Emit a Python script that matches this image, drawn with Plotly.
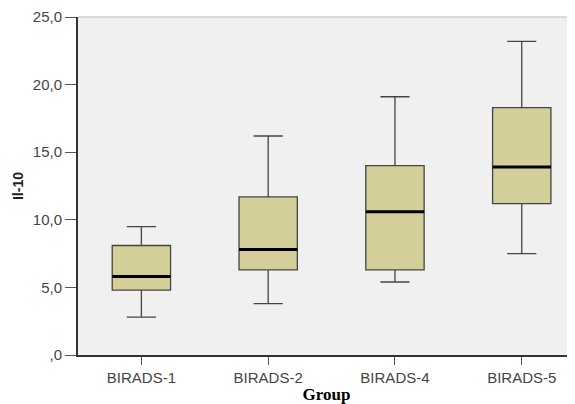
import plotly.graph_objects as go

categories = ["BIRADS-1", "BIRADS-2", "BIRADS-4", "BIRADS-5"]
lower_whisker = [2.8, 3.8, 5.4, 7.5]
q1 = [4.8, 6.3, 6.3, 11.2]
median = [5.8, 7.8, 10.6, 13.9]
q3 = [8.1, 11.7, 14.0, 18.3]
upper_whisker = [9.5, 16.2, 19.1, 23.2]
y_ticks = [0, 5, 10, 15, 20, 25]
y_tick_labels = [",0", "5,0", "10,0", "15,0", "20,0", "25,0"]

pos = list(range(len(categories)))
box_w = 0.46

fig = go.Figure()
fig.add_trace(go.Box(
    x=pos, q1=q1, median=median, q3=q3,
    lowerfence=lower_whisker, upperfence=upper_whisker,
    width=box_w, whiskerwidth=0.5,
    fillcolor="#d4cf99",
    line=dict(color="#444444", width=1.3),
    boxpoints=False, hoverinfo="skip", showlegend=False,
))
# thick median lines
mx, my = [], []
for p, m in zip(pos, median):
    mx += [p - box_w / 2, p + box_w / 2, None]
    my += [m, m, None]
fig.add_trace(go.Scatter(x=mx, y=my, mode="lines",
                         line=dict(color="#000000", width=3),
                         hoverinfo="skip", showlegend=False))

fig.update_layout(
    width=567, height=396,
    margin=dict(l=70, r=0, t=9, b=49),
    paper_bgcolor="white", plot_bgcolor="#f0f0f0",
    font=dict(family="Liberation Sans, Arial, sans-serif", size=14, color="#444444"),
    xaxis=dict(
        range=[-0.5, 3.42], tickmode="array", tickvals=pos, ticktext=categories,
        showgrid=False, zeroline=False, showline=True, linecolor="#333333", linewidth=2,
        ticks="outside", ticklen=8, tickwidth=1.2, tickcolor="#555555",
        tickfont=dict(size=15, color="#444444"),
        title=dict(text="<b>Group</b>", font=dict(family="Liberation Serif, Times New Roman, serif",
                                                 size=17, color="#000000"), standoff=4),
    ),
    yaxis=dict(
        range=[0, 25], tickmode="array", tickvals=y_ticks, ticktext=y_tick_labels,
        showgrid=False, zeroline=False, showline=True, linecolor="#333333", linewidth=2,
        ticks="outside", ticklen=11, tickwidth=1.2, tickcolor="#555555",
        tickfont=dict(size=15, color="#444444"),
        title=dict(text="<b>Il-10</b>", font=dict(size=14, color="#222222"), standoff=6),
    ),
)
fig.add_shape(type="line", xref="paper", yref="paper", x0=0, x1=1, y0=1, y1=1,
              line=dict(color="#bbbbbb", width=1))

fig.write_html("out.html")
